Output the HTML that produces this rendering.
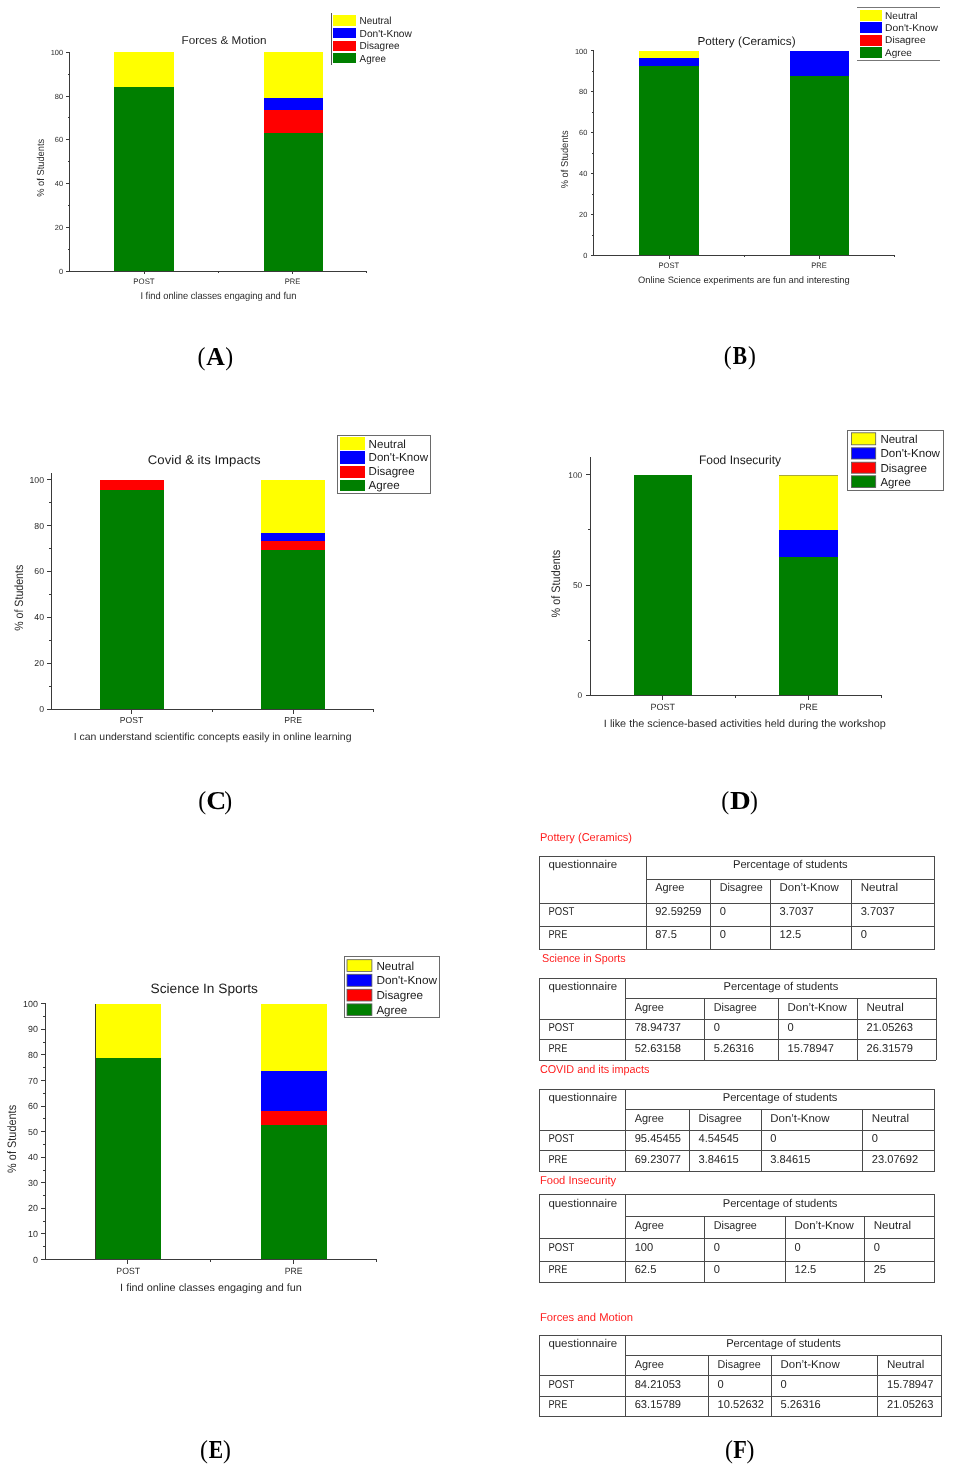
<!DOCTYPE html>
<html><head><meta charset="utf-8"><title>Figure</title>
<style>html,body{margin:0;padding:0;background:#fff;}body{width:954px;height:1468px;overflow:hidden;}svg{display:block;}#w{width:954px;height:1468px;will-change:transform;}</style>
</head><body>
<div id="w"><svg width="954" height="1468" viewBox="0 0 954 1468" shape-rendering="crispEdges" text-rendering="geometricPrecision">
<rect x="0" y="0" width="954" height="1468" fill="#fff"/>
<rect x="114.00" y="86.86" width="59.60" height="184.34" fill="#007f00"/>
<rect x="114.00" y="52.30" width="59.60" height="34.56" fill="#ffff00"/>
<rect x="263.60" y="132.95" width="59.10" height="138.25" fill="#007f00"/>
<rect x="263.60" y="109.91" width="59.10" height="23.04" fill="#ff0000"/>
<rect x="263.60" y="98.38" width="59.10" height="11.52" fill="#0000ff"/>
<rect x="263.60" y="52.30" width="59.10" height="46.08" fill="#ffff00"/>
<line x1="69.4" y1="52.3" x2="69.4" y2="271.7" stroke="#3a3a3a" stroke-width="1"/>
<line x1="66.2" y1="271.2" x2="69.4" y2="271.2" stroke="#3a3a3a" stroke-width="1"/>
<text x="63.10" y="273.80" font-family="Liberation Sans" font-size="7.4" fill="#2b2b2b" text-anchor="end">0</text>
<line x1="66.2" y1="227.42" x2="69.4" y2="227.42" stroke="#3a3a3a" stroke-width="1"/>
<text x="63.10" y="230.02" font-family="Liberation Sans" font-size="7.4" fill="#2b2b2b" text-anchor="end">20</text>
<line x1="66.2" y1="183.64" x2="69.4" y2="183.64" stroke="#3a3a3a" stroke-width="1"/>
<text x="63.10" y="186.24" font-family="Liberation Sans" font-size="7.4" fill="#2b2b2b" text-anchor="end">40</text>
<line x1="66.2" y1="139.86" x2="69.4" y2="139.86" stroke="#3a3a3a" stroke-width="1"/>
<text x="63.10" y="142.46" font-family="Liberation Sans" font-size="7.4" fill="#2b2b2b" text-anchor="end">60</text>
<line x1="66.2" y1="96.08000000000001" x2="69.4" y2="96.08000000000001" stroke="#3a3a3a" stroke-width="1"/>
<text x="63.10" y="98.68" font-family="Liberation Sans" font-size="7.4" fill="#2b2b2b" text-anchor="end">80</text>
<line x1="66.2" y1="52.30000000000004" x2="69.4" y2="52.30000000000004" stroke="#3a3a3a" stroke-width="1"/>
<text x="63.10" y="54.90" font-family="Liberation Sans" font-size="7.4" fill="#2b2b2b" text-anchor="end">100</text>
<line x1="67.80000000000001" y1="249.31" x2="69.4" y2="249.31" stroke="#3a3a3a" stroke-width="1"/>
<line x1="67.80000000000001" y1="205.53" x2="69.4" y2="205.53" stroke="#3a3a3a" stroke-width="1"/>
<line x1="67.80000000000001" y1="161.75" x2="69.4" y2="161.75" stroke="#3a3a3a" stroke-width="1"/>
<line x1="67.80000000000001" y1="117.97000000000003" x2="69.4" y2="117.97000000000003" stroke="#3a3a3a" stroke-width="1"/>
<line x1="67.80000000000001" y1="74.19000000000003" x2="69.4" y2="74.19000000000003" stroke="#3a3a3a" stroke-width="1"/>
<line x1="69.4" y1="271.2" x2="367.2" y2="271.2" stroke="#3a3a3a" stroke-width="1"/>
<line x1="144" y1="271.2" x2="144" y2="274.4" stroke="#3a3a3a" stroke-width="1"/>
<line x1="218.3" y1="271.2" x2="218.3" y2="272.96" stroke="#3a3a3a" stroke-width="1"/>
<line x1="292.5" y1="271.2" x2="292.5" y2="274.4" stroke="#3a3a3a" stroke-width="1"/>
<line x1="366.7" y1="271.2" x2="366.7" y2="272.96" stroke="#3a3a3a" stroke-width="1"/>
<text x="144.00" y="283.90" font-family="Liberation Sans" font-size="7.9" fill="#2b2b2b" text-anchor="middle" textLength="21.29" lengthAdjust="spacingAndGlyphs">POST</text>
<text x="292.60" y="283.90" font-family="Liberation Sans" font-size="7.9" fill="#2b2b2b" text-anchor="middle" textLength="15.59" lengthAdjust="spacingAndGlyphs">PRE</text>
<text x="218.40" y="299.10" font-family="Liberation Sans" font-size="10.0" fill="#2b2b2b" text-anchor="middle" textLength="155.90" lengthAdjust="spacingAndGlyphs">I find online classes engaging and fun</text>
<text x="224.00" y="44.40" font-family="Liberation Sans" font-size="11.4" fill="#1a1a1a" text-anchor="middle" textLength="84.94" lengthAdjust="spacingAndGlyphs">Forces &amp; Motion</text>
<text x="0.00" y="0.00" font-family="Liberation Sans" font-size="10.0" fill="#2b2b2b" text-anchor="middle" textLength="58.00" lengthAdjust="spacingAndGlyphs" transform="translate(43.9,167.8) rotate(-90)">% of Students</text>
<line x1="331.3" y1="13.3" x2="331.3" y2="64.7" stroke="#555" stroke-width="1"/>
<rect x="333.20" y="15.20" width="22.60" height="10.40" fill="#ffff00"/>
<text x="359.60" y="24.00" font-family="Liberation Sans" font-size="10.3" fill="#1a1a1a" textLength="31.90" lengthAdjust="spacingAndGlyphs">Neutral</text>
<rect x="333.20" y="27.90" width="22.60" height="10.40" fill="#0000ff"/>
<text x="359.60" y="36.70" font-family="Liberation Sans" font-size="10.3" fill="#1a1a1a" textLength="52.20" lengthAdjust="spacingAndGlyphs">Don't-Know</text>
<rect x="333.20" y="41.10" width="22.60" height="9.50" fill="#ff0000"/>
<text x="359.60" y="49.00" font-family="Liberation Sans" font-size="10.3" fill="#1a1a1a" textLength="40.00" lengthAdjust="spacingAndGlyphs">Disagree</text>
<rect x="333.20" y="52.90" width="22.60" height="10.40" fill="#007f00"/>
<text x="359.60" y="61.70" font-family="Liberation Sans" font-size="10.3" fill="#1a1a1a" textLength="26.30" lengthAdjust="spacingAndGlyphs">Agree</text>
<rect x="638.90" y="66.06" width="60.10" height="189.44" fill="#007f00"/>
<rect x="638.90" y="58.48" width="60.10" height="7.58" fill="#0000ff"/>
<rect x="638.90" y="50.90" width="60.10" height="7.58" fill="#ffff00"/>
<rect x="789.50" y="76.48" width="59.90" height="179.02" fill="#007f00"/>
<rect x="789.50" y="50.90" width="59.90" height="25.58" fill="#0000ff"/>
<line x1="593.8" y1="50.9" x2="593.8" y2="256.0" stroke="#3a3a3a" stroke-width="1"/>
<line x1="590.5999999999999" y1="255.5" x2="593.8" y2="255.5" stroke="#3a3a3a" stroke-width="1"/>
<text x="587.30" y="258.10" font-family="Liberation Sans" font-size="7.4" fill="#2b2b2b" text-anchor="end">0</text>
<line x1="590.5999999999999" y1="214.58" x2="593.8" y2="214.58" stroke="#3a3a3a" stroke-width="1"/>
<text x="587.30" y="217.18" font-family="Liberation Sans" font-size="7.4" fill="#2b2b2b" text-anchor="end">20</text>
<line x1="590.5999999999999" y1="173.66000000000003" x2="593.8" y2="173.66000000000003" stroke="#3a3a3a" stroke-width="1"/>
<text x="587.30" y="176.26" font-family="Liberation Sans" font-size="7.4" fill="#2b2b2b" text-anchor="end">40</text>
<line x1="590.5999999999999" y1="132.74" x2="593.8" y2="132.74" stroke="#3a3a3a" stroke-width="1"/>
<text x="587.30" y="135.34" font-family="Liberation Sans" font-size="7.4" fill="#2b2b2b" text-anchor="end">60</text>
<line x1="590.5999999999999" y1="91.82000000000002" x2="593.8" y2="91.82000000000002" stroke="#3a3a3a" stroke-width="1"/>
<text x="587.30" y="94.42" font-family="Liberation Sans" font-size="7.4" fill="#2b2b2b" text-anchor="end">80</text>
<line x1="590.5999999999999" y1="50.900000000000006" x2="593.8" y2="50.900000000000006" stroke="#3a3a3a" stroke-width="1"/>
<text x="587.30" y="53.50" font-family="Liberation Sans" font-size="7.4" fill="#2b2b2b" text-anchor="end">100</text>
<line x1="592.1999999999999" y1="235.04" x2="593.8" y2="235.04" stroke="#3a3a3a" stroke-width="1"/>
<line x1="592.1999999999999" y1="194.12" x2="593.8" y2="194.12" stroke="#3a3a3a" stroke-width="1"/>
<line x1="592.1999999999999" y1="153.2" x2="593.8" y2="153.2" stroke="#3a3a3a" stroke-width="1"/>
<line x1="592.1999999999999" y1="112.28" x2="593.8" y2="112.28" stroke="#3a3a3a" stroke-width="1"/>
<line x1="592.1999999999999" y1="71.36000000000001" x2="593.8" y2="71.36000000000001" stroke="#3a3a3a" stroke-width="1"/>
<line x1="593.8" y1="255.5" x2="894.6" y2="255.5" stroke="#3a3a3a" stroke-width="1"/>
<line x1="669" y1="255.5" x2="669" y2="258.7" stroke="#3a3a3a" stroke-width="1"/>
<line x1="744.1" y1="255.5" x2="744.1" y2="257.26" stroke="#3a3a3a" stroke-width="1"/>
<line x1="819.2" y1="255.5" x2="819.2" y2="258.7" stroke="#3a3a3a" stroke-width="1"/>
<line x1="894.1" y1="255.5" x2="894.1" y2="257.26" stroke="#3a3a3a" stroke-width="1"/>
<text x="668.80" y="268.00" font-family="Liberation Sans" font-size="7.9" fill="#2b2b2b" text-anchor="middle" textLength="20.69" lengthAdjust="spacingAndGlyphs">POST</text>
<text x="819.00" y="268.00" font-family="Liberation Sans" font-size="7.9" fill="#2b2b2b" text-anchor="middle" textLength="15.49" lengthAdjust="spacingAndGlyphs">PRE</text>
<text x="743.90" y="283.00" font-family="Liberation Sans" font-size="9.3" fill="#2b2b2b" text-anchor="middle" textLength="211.62" lengthAdjust="spacingAndGlyphs">Online Science experiments are fun and interesting</text>
<text x="746.50" y="45.30" font-family="Liberation Sans" font-size="11.6" fill="#1a1a1a" text-anchor="middle" textLength="98.16" lengthAdjust="spacingAndGlyphs">Pottery (Ceramics)</text>
<text x="0.00" y="0.00" font-family="Liberation Sans" font-size="10.0" fill="#2b2b2b" text-anchor="middle" textLength="58.00" lengthAdjust="spacingAndGlyphs" transform="translate(567.9,159.3) rotate(-90)">% of Students</text>
<line x1="857.3" y1="7.8" x2="939.8" y2="7.8" stroke="#777" stroke-width="1"/>
<line x1="857.3" y1="60.1" x2="939.8" y2="60.1" stroke="#777" stroke-width="1"/>
<rect x="859.80" y="10.10" width="21.70" height="10.90" fill="#ffff00"/>
<text x="885.10" y="18.90" font-family="Liberation Sans" font-size="9.8" fill="#1a1a1a" textLength="32.40" lengthAdjust="spacingAndGlyphs">Neutral</text>
<rect x="859.80" y="22.40" width="21.70" height="10.40" fill="#0000ff"/>
<text x="885.10" y="30.70" font-family="Liberation Sans" font-size="9.8" fill="#1a1a1a" textLength="52.70" lengthAdjust="spacingAndGlyphs">Don't-Know</text>
<rect x="859.80" y="34.70" width="21.70" height="10.80" fill="#ff0000"/>
<text x="885.10" y="43.40" font-family="Liberation Sans" font-size="9.8" fill="#1a1a1a" textLength="40.50" lengthAdjust="spacingAndGlyphs">Disagree</text>
<rect x="859.80" y="47.40" width="21.70" height="10.80" fill="#007f00"/>
<text x="885.10" y="56.10" font-family="Liberation Sans" font-size="9.8" fill="#1a1a1a" textLength="26.80" lengthAdjust="spacingAndGlyphs">Agree</text>
<rect x="99.60" y="490.04" width="64.70" height="219.16" fill="#007f00"/>
<rect x="99.60" y="479.60" width="64.70" height="10.44" fill="#ff0000"/>
<rect x="261.40" y="550.25" width="63.90" height="158.95" fill="#007f00"/>
<rect x="261.40" y="541.42" width="63.90" height="8.83" fill="#ff0000"/>
<rect x="261.40" y="532.58" width="63.90" height="8.83" fill="#0000ff"/>
<rect x="261.40" y="479.60" width="63.90" height="52.98" fill="#ffff00"/>
<line x1="51.1" y1="472.5" x2="51.1" y2="709.7" stroke="#3a3a3a" stroke-width="1"/>
<line x1="46.800000000000004" y1="709.2" x2="51.1" y2="709.2" stroke="#3a3a3a" stroke-width="1"/>
<text x="44.00" y="712.20" font-family="Liberation Sans" font-size="8.7" fill="#2b2b2b" text-anchor="end">0</text>
<line x1="46.800000000000004" y1="663.2800000000001" x2="51.1" y2="663.2800000000001" stroke="#3a3a3a" stroke-width="1"/>
<text x="44.00" y="666.28" font-family="Liberation Sans" font-size="8.7" fill="#2b2b2b" text-anchor="end">20</text>
<line x1="46.800000000000004" y1="617.36" x2="51.1" y2="617.36" stroke="#3a3a3a" stroke-width="1"/>
<text x="44.00" y="620.36" font-family="Liberation Sans" font-size="8.7" fill="#2b2b2b" text-anchor="end">40</text>
<line x1="46.800000000000004" y1="571.44" x2="51.1" y2="571.44" stroke="#3a3a3a" stroke-width="1"/>
<text x="44.00" y="574.44" font-family="Liberation Sans" font-size="8.7" fill="#2b2b2b" text-anchor="end">60</text>
<line x1="46.800000000000004" y1="525.52" x2="51.1" y2="525.52" stroke="#3a3a3a" stroke-width="1"/>
<text x="44.00" y="528.52" font-family="Liberation Sans" font-size="8.7" fill="#2b2b2b" text-anchor="end">80</text>
<line x1="46.800000000000004" y1="479.6" x2="51.1" y2="479.6" stroke="#3a3a3a" stroke-width="1"/>
<text x="44.00" y="482.60" font-family="Liberation Sans" font-size="8.7" fill="#2b2b2b" text-anchor="end">100</text>
<line x1="48.95" y1="686.24" x2="51.1" y2="686.24" stroke="#3a3a3a" stroke-width="1"/>
<line x1="48.95" y1="640.32" x2="51.1" y2="640.32" stroke="#3a3a3a" stroke-width="1"/>
<line x1="48.95" y1="594.4000000000001" x2="51.1" y2="594.4000000000001" stroke="#3a3a3a" stroke-width="1"/>
<line x1="48.95" y1="548.48" x2="51.1" y2="548.48" stroke="#3a3a3a" stroke-width="1"/>
<line x1="48.95" y1="502.56000000000006" x2="51.1" y2="502.56000000000006" stroke="#3a3a3a" stroke-width="1"/>
<line x1="51.1" y1="709.2" x2="374.2" y2="709.2" stroke="#3a3a3a" stroke-width="1"/>
<line x1="131.6" y1="709.2" x2="131.6" y2="713.5" stroke="#3a3a3a" stroke-width="1"/>
<line x1="212.6" y1="709.2" x2="212.6" y2="711.565" stroke="#3a3a3a" stroke-width="1"/>
<line x1="293.2" y1="709.2" x2="293.2" y2="713.5" stroke="#3a3a3a" stroke-width="1"/>
<line x1="373.8" y1="709.2" x2="373.8" y2="711.565" stroke="#3a3a3a" stroke-width="1"/>
<text x="131.60" y="723.30" font-family="Liberation Sans" font-size="8.7" fill="#2b2b2b" text-anchor="middle" textLength="23.47" lengthAdjust="spacingAndGlyphs">POST</text>
<text x="293.20" y="723.30" font-family="Liberation Sans" font-size="8.7" fill="#2b2b2b" text-anchor="middle" textLength="17.87" lengthAdjust="spacingAndGlyphs">PRE</text>
<text x="212.60" y="740.10" font-family="Liberation Sans" font-size="10.3" fill="#2b2b2b" text-anchor="middle" textLength="277.84" lengthAdjust="spacingAndGlyphs">I can understand scientific concepts easily in online learning</text>
<text x="204.20" y="463.90" font-family="Liberation Sans" font-size="12.5" fill="#1a1a1a" text-anchor="middle" textLength="112.75" lengthAdjust="spacingAndGlyphs">Covid &amp; its Impacts</text>
<text x="0.00" y="0.00" font-family="Liberation Sans" font-size="12.0" fill="#2b2b2b" text-anchor="middle" textLength="66.06" lengthAdjust="spacingAndGlyphs" transform="translate(22.7,597.8) rotate(-90)">% of Students</text>
<rect x="337.60" y="435.10" width="92.80" height="58.60" fill="none" stroke="#6a6a6a" stroke-width="1"/>
<rect x="340.10" y="437.20" width="25.00" height="12.60" fill="#ffff00"/>
<text x="368.60" y="447.50" font-family="Liberation Sans" font-size="11.6" fill="#1a1a1a" textLength="37.30" lengthAdjust="spacingAndGlyphs">Neutral</text>
<rect x="340.10" y="451.40" width="25.00" height="12.20" fill="#0000ff"/>
<text x="368.60" y="461.30" font-family="Liberation Sans" font-size="11.6" fill="#1a1a1a" textLength="59.40" lengthAdjust="spacingAndGlyphs">Don't-Know</text>
<rect x="340.10" y="466.20" width="25.00" height="11.30" fill="#ff0000"/>
<text x="368.60" y="475.20" font-family="Liberation Sans" font-size="11.6" fill="#1a1a1a" textLength="46.10" lengthAdjust="spacingAndGlyphs">Disagree</text>
<rect x="340.10" y="480.00" width="25.00" height="11.30" fill="#007f00"/>
<text x="368.60" y="489.00" font-family="Liberation Sans" font-size="11.6" fill="#1a1a1a" textLength="31.00" lengthAdjust="spacingAndGlyphs">Agree</text>
<rect x="634.20" y="474.80" width="57.30" height="220.50" fill="#007f00"/>
<rect x="779.40" y="557.49" width="58.40" height="137.81" fill="#007f00"/>
<rect x="779.40" y="529.92" width="58.40" height="27.56" fill="#0000ff"/>
<rect x="779.40" y="474.80" width="58.40" height="55.12" fill="#ffff00"/>
<line x1="779.4" y1="475.29999999999995" x2="837.8" y2="475.29999999999995" stroke="#a9a93a" stroke-width="1"/>
<line x1="590.4" y1="457.2" x2="590.4" y2="695.8" stroke="#3a3a3a" stroke-width="1"/>
<line x1="586.1" y1="695.3" x2="590.4" y2="695.3" stroke="#3a3a3a" stroke-width="1"/>
<text x="582.20" y="698.30" font-family="Liberation Sans" font-size="8.3" fill="#2b2b2b" text-anchor="end">0</text>
<line x1="586.1" y1="585.05" x2="590.4" y2="585.05" stroke="#3a3a3a" stroke-width="1"/>
<text x="582.20" y="588.05" font-family="Liberation Sans" font-size="8.3" fill="#2b2b2b" text-anchor="end">50</text>
<line x1="586.1" y1="474.79999999999995" x2="590.4" y2="474.79999999999995" stroke="#3a3a3a" stroke-width="1"/>
<text x="582.20" y="477.80" font-family="Liberation Sans" font-size="8.3" fill="#2b2b2b" text-anchor="end">100</text>
<line x1="588.25" y1="640.175" x2="590.4" y2="640.175" stroke="#3a3a3a" stroke-width="1"/>
<line x1="588.25" y1="529.925" x2="590.4" y2="529.925" stroke="#3a3a3a" stroke-width="1"/>
<line x1="590.4" y1="695.3" x2="881.6" y2="695.3" stroke="#3a3a3a" stroke-width="1"/>
<line x1="662.8" y1="695.3" x2="662.8" y2="699.5999999999999" stroke="#3a3a3a" stroke-width="1"/>
<line x1="735.8" y1="695.3" x2="735.8" y2="697.665" stroke="#3a3a3a" stroke-width="1"/>
<line x1="808.6" y1="695.3" x2="808.6" y2="699.5999999999999" stroke="#3a3a3a" stroke-width="1"/>
<line x1="881.2" y1="695.3" x2="881.2" y2="697.665" stroke="#3a3a3a" stroke-width="1"/>
<text x="662.80" y="710.20" font-family="Liberation Sans" font-size="9.1" fill="#2b2b2b" text-anchor="middle" textLength="24.51" lengthAdjust="spacingAndGlyphs">POST</text>
<text x="808.60" y="710.20" font-family="Liberation Sans" font-size="9.1" fill="#2b2b2b" text-anchor="middle" textLength="18.41" lengthAdjust="spacingAndGlyphs">PRE</text>
<text x="744.80" y="726.80" font-family="Liberation Sans" font-size="10.7" fill="#2b2b2b" text-anchor="middle" textLength="281.88" lengthAdjust="spacingAndGlyphs">I like the science-based activities held during the workshop</text>
<text x="740.00" y="464.40" font-family="Liberation Sans" font-size="12.2" fill="#1a1a1a" text-anchor="middle" textLength="82.22" lengthAdjust="spacingAndGlyphs">Food Insecurity</text>
<text x="0.00" y="0.00" font-family="Liberation Sans" font-size="12.2" fill="#2b2b2b" text-anchor="middle" textLength="67.68" lengthAdjust="spacingAndGlyphs" transform="translate(560.2,583.6) rotate(-90)">% of Students</text>
<rect x="847.70" y="430.50" width="95.90" height="59.90" fill="none" stroke="#6a6a6a" stroke-width="1"/>
<rect x="851.40" y="432.80" width="24.30" height="12.00" fill="#ffff00" stroke="#5a5a5a" stroke-width="0.8" shape-rendering="geometricPrecision"/>
<text x="880.40" y="443.20" font-family="Liberation Sans" font-size="11.5" fill="#1a1a1a" textLength="37.10" lengthAdjust="spacingAndGlyphs">Neutral</text>
<rect x="851.40" y="447.80" width="24.30" height="11.20" fill="#0000ff" stroke="#5a5a5a" stroke-width="0.8" shape-rendering="geometricPrecision"/>
<text x="880.40" y="457.40" font-family="Liberation Sans" font-size="11.5" fill="#1a1a1a" textLength="59.60" lengthAdjust="spacingAndGlyphs">Don't-Know</text>
<rect x="851.40" y="462.20" width="24.30" height="11.00" fill="#ff0000" stroke="#5a5a5a" stroke-width="0.8" shape-rendering="geometricPrecision"/>
<text x="880.40" y="471.60" font-family="Liberation Sans" font-size="11.5" fill="#1a1a1a" textLength="46.50" lengthAdjust="spacingAndGlyphs">Disagree</text>
<rect x="851.40" y="475.80" width="24.30" height="11.80" fill="#007f00" stroke="#5a5a5a" stroke-width="0.8" shape-rendering="geometricPrecision"/>
<text x="880.40" y="486.00" font-family="Liberation Sans" font-size="11.5" fill="#1a1a1a" textLength="30.50" lengthAdjust="spacingAndGlyphs">Agree</text>
<rect x="95.20" y="1057.63" width="65.80" height="201.87" fill="#007f00"/>
<rect x="95.20" y="1003.80" width="65.80" height="53.83" fill="#ffff00"/>
<line x1="95.5" y1="1003.8" x2="95.5" y2="1259.5" stroke="#3a3a2a" stroke-width="1"/>
<rect x="260.80" y="1124.92" width="66.30" height="134.58" fill="#007f00"/>
<rect x="260.80" y="1111.46" width="66.30" height="13.46" fill="#ff0000"/>
<rect x="260.80" y="1071.09" width="66.30" height="40.37" fill="#0000ff"/>
<rect x="260.80" y="1003.80" width="66.30" height="67.29" fill="#ffff00"/>
<line x1="45.6" y1="1003.8" x2="45.6" y2="1260.0" stroke="#3a3a3a" stroke-width="1"/>
<line x1="41.300000000000004" y1="1259.5" x2="45.6" y2="1259.5" stroke="#3a3a3a" stroke-width="1"/>
<text x="37.90" y="1262.60" font-family="Liberation Sans" font-size="8.9" fill="#2b2b2b" text-anchor="end">0</text>
<line x1="41.300000000000004" y1="1233.93" x2="45.6" y2="1233.93" stroke="#3a3a3a" stroke-width="1"/>
<text x="37.90" y="1237.03" font-family="Liberation Sans" font-size="8.9" fill="#2b2b2b" text-anchor="end">10</text>
<line x1="41.300000000000004" y1="1208.36" x2="45.6" y2="1208.36" stroke="#3a3a3a" stroke-width="1"/>
<text x="37.90" y="1211.46" font-family="Liberation Sans" font-size="8.9" fill="#2b2b2b" text-anchor="end">20</text>
<line x1="41.300000000000004" y1="1182.79" x2="45.6" y2="1182.79" stroke="#3a3a3a" stroke-width="1"/>
<text x="37.90" y="1185.89" font-family="Liberation Sans" font-size="8.9" fill="#2b2b2b" text-anchor="end">30</text>
<line x1="41.300000000000004" y1="1157.22" x2="45.6" y2="1157.22" stroke="#3a3a3a" stroke-width="1"/>
<text x="37.90" y="1160.32" font-family="Liberation Sans" font-size="8.9" fill="#2b2b2b" text-anchor="end">40</text>
<line x1="41.300000000000004" y1="1131.65" x2="45.6" y2="1131.65" stroke="#3a3a3a" stroke-width="1"/>
<text x="37.90" y="1134.75" font-family="Liberation Sans" font-size="8.9" fill="#2b2b2b" text-anchor="end">50</text>
<line x1="41.300000000000004" y1="1106.08" x2="45.6" y2="1106.08" stroke="#3a3a3a" stroke-width="1"/>
<text x="37.90" y="1109.18" font-family="Liberation Sans" font-size="8.9" fill="#2b2b2b" text-anchor="end">60</text>
<line x1="41.300000000000004" y1="1080.51" x2="45.6" y2="1080.51" stroke="#3a3a3a" stroke-width="1"/>
<text x="37.90" y="1083.61" font-family="Liberation Sans" font-size="8.9" fill="#2b2b2b" text-anchor="end">70</text>
<line x1="41.300000000000004" y1="1054.94" x2="45.6" y2="1054.94" stroke="#3a3a3a" stroke-width="1"/>
<text x="37.90" y="1058.04" font-family="Liberation Sans" font-size="8.9" fill="#2b2b2b" text-anchor="end">80</text>
<line x1="41.300000000000004" y1="1029.37" x2="45.6" y2="1029.37" stroke="#3a3a3a" stroke-width="1"/>
<text x="37.90" y="1032.47" font-family="Liberation Sans" font-size="8.9" fill="#2b2b2b" text-anchor="end">90</text>
<line x1="41.300000000000004" y1="1003.8" x2="45.6" y2="1003.8" stroke="#3a3a3a" stroke-width="1"/>
<text x="37.90" y="1006.90" font-family="Liberation Sans" font-size="8.9" fill="#2b2b2b" text-anchor="end">100</text>
<line x1="43.45" y1="1246.715" x2="45.6" y2="1246.715" stroke="#3a3a3a" stroke-width="1"/>
<line x1="43.45" y1="1221.145" x2="45.6" y2="1221.145" stroke="#3a3a3a" stroke-width="1"/>
<line x1="43.45" y1="1195.575" x2="45.6" y2="1195.575" stroke="#3a3a3a" stroke-width="1"/>
<line x1="43.45" y1="1170.0049999999999" x2="45.6" y2="1170.0049999999999" stroke="#3a3a3a" stroke-width="1"/>
<line x1="43.45" y1="1144.435" x2="45.6" y2="1144.435" stroke="#3a3a3a" stroke-width="1"/>
<line x1="43.45" y1="1118.865" x2="45.6" y2="1118.865" stroke="#3a3a3a" stroke-width="1"/>
<line x1="43.45" y1="1093.295" x2="45.6" y2="1093.295" stroke="#3a3a3a" stroke-width="1"/>
<line x1="43.45" y1="1067.725" x2="45.6" y2="1067.725" stroke="#3a3a3a" stroke-width="1"/>
<line x1="43.45" y1="1042.155" x2="45.6" y2="1042.155" stroke="#3a3a3a" stroke-width="1"/>
<line x1="43.45" y1="1016.5849999999999" x2="45.6" y2="1016.5849999999999" stroke="#3a3a3a" stroke-width="1"/>
<line x1="45.6" y1="1259.5" x2="376.8" y2="1259.5" stroke="#3a3a3a" stroke-width="1"/>
<line x1="127.8" y1="1259.5" x2="127.8" y2="1263.8" stroke="#3a3a3a" stroke-width="1"/>
<line x1="210.8" y1="1259.5" x2="210.8" y2="1261.865" stroke="#3a3a3a" stroke-width="1"/>
<line x1="293.7" y1="1259.5" x2="293.7" y2="1263.8" stroke="#3a3a3a" stroke-width="1"/>
<line x1="376.4" y1="1259.5" x2="376.4" y2="1261.865" stroke="#3a3a3a" stroke-width="1"/>
<text x="128.20" y="1273.80" font-family="Liberation Sans" font-size="9.1" fill="#2b2b2b" text-anchor="middle" textLength="23.71" lengthAdjust="spacingAndGlyphs">POST</text>
<text x="293.70" y="1273.80" font-family="Liberation Sans" font-size="9.1" fill="#2b2b2b" text-anchor="middle" textLength="17.91" lengthAdjust="spacingAndGlyphs">PRE</text>
<text x="211.00" y="1291.30" font-family="Liberation Sans" font-size="10.6" fill="#2b2b2b" text-anchor="middle" textLength="181.77" lengthAdjust="spacingAndGlyphs">I find online classes engaging and fun</text>
<text x="204.20" y="992.50" font-family="Liberation Sans" font-size="13.6" fill="#1a1a1a" text-anchor="middle" textLength="107.36" lengthAdjust="spacingAndGlyphs">Science In Sports</text>
<text x="0.00" y="0.00" font-family="Liberation Sans" font-size="12.2" fill="#2b2b2b" text-anchor="middle" textLength="67.98" lengthAdjust="spacingAndGlyphs" transform="translate(16.1,1138.9) rotate(-90)">% of Students</text>
<rect x="344.10" y="956.80" width="95.50" height="60.40" fill="none" stroke="#6a6a6a" stroke-width="1"/>
<rect x="347.00" y="959.70" width="24.90" height="11.70" fill="#ffff00" stroke="#5a5a5a" stroke-width="0.8" shape-rendering="geometricPrecision"/>
<text x="376.40" y="969.50" font-family="Liberation Sans" font-size="11.6" fill="#1a1a1a" textLength="37.60" lengthAdjust="spacingAndGlyphs">Neutral</text>
<rect x="347.00" y="974.30" width="24.90" height="12.00" fill="#0000ff" stroke="#5a5a5a" stroke-width="0.8" shape-rendering="geometricPrecision"/>
<text x="376.40" y="984.40" font-family="Liberation Sans" font-size="11.6" fill="#1a1a1a" textLength="60.60" lengthAdjust="spacingAndGlyphs">Don't-Know</text>
<rect x="347.00" y="989.30" width="24.90" height="11.70" fill="#ff0000" stroke="#5a5a5a" stroke-width="0.8" shape-rendering="geometricPrecision"/>
<text x="376.40" y="999.10" font-family="Liberation Sans" font-size="11.6" fill="#1a1a1a" textLength="46.70" lengthAdjust="spacingAndGlyphs">Disagree</text>
<rect x="347.00" y="1003.90" width="24.90" height="11.60" fill="#007f00" stroke="#5a5a5a" stroke-width="0.8" shape-rendering="geometricPrecision"/>
<text x="376.40" y="1013.60" font-family="Liberation Sans" font-size="11.6" fill="#1a1a1a" textLength="30.90" lengthAdjust="spacingAndGlyphs">Agree</text>
<text x="197.56" y="364.50" font-family="Liberation Serif" font-size="25.8" fill="#000" textLength="7.90" lengthAdjust="spacingAndGlyphs">(</text>
<text x="225.36" y="364.50" font-family="Liberation Serif" font-size="25.8" fill="#000" textLength="7.90" lengthAdjust="spacingAndGlyphs">)</text>
<text x="206.24" y="364.50" font-family="Liberation Serif" font-size="25.8" fill="#000" textLength="18.56" lengthAdjust="spacingAndGlyphs" font-weight="bold">A</text>
<text x="723.66" y="364.30" font-family="Liberation Serif" font-size="25.8" fill="#000" textLength="7.90" lengthAdjust="spacingAndGlyphs">(</text>
<text x="747.96" y="364.30" font-family="Liberation Serif" font-size="25.8" fill="#000" textLength="7.90" lengthAdjust="spacingAndGlyphs">)</text>
<text x="732.74" y="364.30" font-family="Liberation Serif" font-size="25.8" fill="#000" textLength="14.29" lengthAdjust="spacingAndGlyphs" font-weight="bold">B</text>
<text x="198.36" y="808.90" font-family="Liberation Serif" font-size="25.8" fill="#000" textLength="7.90" lengthAdjust="spacingAndGlyphs">(</text>
<text x="224.26" y="808.90" font-family="Liberation Serif" font-size="25.8" fill="#000" textLength="7.90" lengthAdjust="spacingAndGlyphs">)</text>
<text x="206.24" y="808.90" font-family="Liberation Serif" font-size="25.8" fill="#000" textLength="19.99" lengthAdjust="spacingAndGlyphs" font-weight="bold">C</text>
<text x="721.26" y="808.70" font-family="Liberation Serif" font-size="25.8" fill="#000" textLength="7.90" lengthAdjust="spacingAndGlyphs">(</text>
<text x="750.06" y="808.70" font-family="Liberation Serif" font-size="25.8" fill="#000" textLength="7.90" lengthAdjust="spacingAndGlyphs">)</text>
<text x="729.98" y="808.70" font-family="Liberation Serif" font-size="25.8" fill="#000" textLength="20.75" lengthAdjust="spacingAndGlyphs" font-weight="bold">D</text>
<text x="199.96" y="1458.40" font-family="Liberation Serif" font-size="25.8" fill="#000" textLength="7.90" lengthAdjust="spacingAndGlyphs">(</text>
<text x="222.96" y="1458.40" font-family="Liberation Serif" font-size="25.8" fill="#000" textLength="7.90" lengthAdjust="spacingAndGlyphs">)</text>
<text x="208.73" y="1458.40" font-family="Liberation Serif" font-size="25.8" fill="#000" textLength="14.39" lengthAdjust="spacingAndGlyphs" font-weight="bold">E</text>
<text x="724.96" y="1458.40" font-family="Liberation Serif" font-size="25.8" fill="#000" textLength="7.90" lengthAdjust="spacingAndGlyphs">(</text>
<text x="746.46" y="1458.40" font-family="Liberation Serif" font-size="25.8" fill="#000" textLength="7.90" lengthAdjust="spacingAndGlyphs">)</text>
<text x="733.22" y="1458.40" font-family="Liberation Serif" font-size="25.8" fill="#000" textLength="13.57" lengthAdjust="spacingAndGlyphs" font-weight="bold">F</text>
<text x="539.90" y="840.90" font-family="Liberation Sans" font-size="11.4" fill="#ff2020" textLength="92.07" lengthAdjust="spacingAndGlyphs">Pottery (Ceramics)</text>
<line x1="539.2" y1="856.3" x2="934.6" y2="856.3" stroke="#4a4a4a" stroke-width="1"/>
<line x1="539.2" y1="949.3" x2="934.6" y2="949.3" stroke="#4a4a4a" stroke-width="1"/>
<line x1="539.2" y1="903.1" x2="934.6" y2="903.1" stroke="#4a4a4a" stroke-width="1"/>
<line x1="539.2" y1="926.3" x2="934.6" y2="926.3" stroke="#4a4a4a" stroke-width="1"/>
<line x1="646" y1="879.3" x2="934.6" y2="879.3" stroke="#4a4a4a" stroke-width="1"/>
<line x1="539.2" y1="856.3" x2="539.2" y2="949.3" stroke="#4a4a4a" stroke-width="1"/>
<line x1="934.6" y1="856.3" x2="934.6" y2="949.3" stroke="#4a4a4a" stroke-width="1"/>
<line x1="646" y1="856.3" x2="646" y2="949.3" stroke="#4a4a4a" stroke-width="1"/>
<line x1="710.5" y1="879.3" x2="710.5" y2="949.3" stroke="#4a4a4a" stroke-width="1"/>
<line x1="770.4" y1="879.3" x2="770.4" y2="949.3" stroke="#4a4a4a" stroke-width="1"/>
<line x1="851.5" y1="879.3" x2="851.5" y2="949.3" stroke="#4a4a4a" stroke-width="1"/>
<text x="548.40" y="868.30" font-family="Liberation Sans" font-size="11.4" fill="#262626" textLength="68.75" lengthAdjust="spacingAndGlyphs">questionnaire</text>
<text x="790.30" y="868.30" font-family="Liberation Sans" font-size="11.4" fill="#262626" text-anchor="middle" textLength="114.70" lengthAdjust="spacingAndGlyphs">Percentage of students</text>
<text x="655.20" y="891.30" font-family="Liberation Sans" font-size="11.4" fill="#262626" textLength="29.22" lengthAdjust="spacingAndGlyphs">Agree</text>
<text x="719.70" y="891.30" font-family="Liberation Sans" font-size="11.4" fill="#262626" textLength="43.07" lengthAdjust="spacingAndGlyphs">Disagree</text>
<text x="779.60" y="891.30" font-family="Liberation Sans" font-size="11.4" fill="#262626" textLength="59.11" lengthAdjust="spacingAndGlyphs">Don’t-Know</text>
<text x="860.70" y="891.30" font-family="Liberation Sans" font-size="11.4" fill="#262626" textLength="37.34" lengthAdjust="spacingAndGlyphs">Neutral</text>
<text x="548.40" y="915.10" font-family="Liberation Sans" font-size="11.4" fill="#262626" textLength="25.93" lengthAdjust="spacingAndGlyphs">POST</text>
<text x="655.20" y="915.10" font-family="Liberation Sans" font-size="11.4" fill="#262626" textLength="46.37" lengthAdjust="spacingAndGlyphs">92.59259</text>
<text x="719.70" y="915.10" font-family="Liberation Sans" font-size="11.4" fill="#262626" textLength="6.19" lengthAdjust="spacingAndGlyphs">0</text>
<text x="779.60" y="915.10" font-family="Liberation Sans" font-size="11.4" fill="#262626" textLength="34.00" lengthAdjust="spacingAndGlyphs">3.7037</text>
<text x="860.70" y="915.10" font-family="Liberation Sans" font-size="11.4" fill="#262626" textLength="34.00" lengthAdjust="spacingAndGlyphs">3.7037</text>
<text x="548.40" y="938.30" font-family="Liberation Sans" font-size="11.4" fill="#262626" textLength="18.89" lengthAdjust="spacingAndGlyphs">PRE</text>
<text x="655.20" y="938.30" font-family="Liberation Sans" font-size="11.4" fill="#262626" textLength="21.63" lengthAdjust="spacingAndGlyphs">87.5</text>
<text x="719.70" y="938.30" font-family="Liberation Sans" font-size="11.4" fill="#262626" textLength="6.19" lengthAdjust="spacingAndGlyphs">0</text>
<text x="779.60" y="938.30" font-family="Liberation Sans" font-size="11.4" fill="#262626" textLength="21.63" lengthAdjust="spacingAndGlyphs">12.5</text>
<text x="860.70" y="938.30" font-family="Liberation Sans" font-size="11.4" fill="#262626" textLength="6.19" lengthAdjust="spacingAndGlyphs">0</text>
<text x="542.10" y="962.00" font-family="Liberation Sans" font-size="11.4" fill="#ff2020" textLength="83.53" lengthAdjust="spacingAndGlyphs">Science in Sports</text>
<line x1="539.2" y1="978" x2="936.4" y2="978" stroke="#4a4a4a" stroke-width="1"/>
<line x1="539.2" y1="1060" x2="936.4" y2="1060" stroke="#4a4a4a" stroke-width="1"/>
<line x1="539.2" y1="1019" x2="936.4" y2="1019" stroke="#4a4a4a" stroke-width="1"/>
<line x1="539.2" y1="1039.6" x2="936.4" y2="1039.6" stroke="#4a4a4a" stroke-width="1"/>
<line x1="625.5" y1="998.6" x2="936.4" y2="998.6" stroke="#4a4a4a" stroke-width="1"/>
<line x1="539.2" y1="978" x2="539.2" y2="1060" stroke="#4a4a4a" stroke-width="1"/>
<line x1="936.4" y1="978" x2="936.4" y2="1060" stroke="#4a4a4a" stroke-width="1"/>
<line x1="625.5" y1="978" x2="625.5" y2="1060" stroke="#4a4a4a" stroke-width="1"/>
<line x1="704.6" y1="998.6" x2="704.6" y2="1060" stroke="#4a4a4a" stroke-width="1"/>
<line x1="778.4" y1="998.6" x2="778.4" y2="1060" stroke="#4a4a4a" stroke-width="1"/>
<line x1="857.3" y1="998.6" x2="857.3" y2="1060" stroke="#4a4a4a" stroke-width="1"/>
<text x="548.40" y="990.00" font-family="Liberation Sans" font-size="11.4" fill="#262626" textLength="68.75" lengthAdjust="spacingAndGlyphs">questionnaire</text>
<text x="780.95" y="990.00" font-family="Liberation Sans" font-size="11.4" fill="#262626" text-anchor="middle" textLength="114.70" lengthAdjust="spacingAndGlyphs">Percentage of students</text>
<text x="634.70" y="1010.60" font-family="Liberation Sans" font-size="11.4" fill="#262626" textLength="29.22" lengthAdjust="spacingAndGlyphs">Agree</text>
<text x="713.80" y="1010.60" font-family="Liberation Sans" font-size="11.4" fill="#262626" textLength="43.07" lengthAdjust="spacingAndGlyphs">Disagree</text>
<text x="787.60" y="1010.60" font-family="Liberation Sans" font-size="11.4" fill="#262626" textLength="59.11" lengthAdjust="spacingAndGlyphs">Don’t-Know</text>
<text x="866.50" y="1010.60" font-family="Liberation Sans" font-size="11.4" fill="#262626" textLength="37.34" lengthAdjust="spacingAndGlyphs">Neutral</text>
<text x="548.40" y="1031.00" font-family="Liberation Sans" font-size="11.4" fill="#262626" textLength="25.93" lengthAdjust="spacingAndGlyphs">POST</text>
<text x="634.70" y="1031.00" font-family="Liberation Sans" font-size="11.4" fill="#262626" textLength="46.37" lengthAdjust="spacingAndGlyphs">78.94737</text>
<text x="713.80" y="1031.00" font-family="Liberation Sans" font-size="11.4" fill="#262626" textLength="6.19" lengthAdjust="spacingAndGlyphs">0</text>
<text x="787.60" y="1031.00" font-family="Liberation Sans" font-size="11.4" fill="#262626" textLength="6.19" lengthAdjust="spacingAndGlyphs">0</text>
<text x="866.50" y="1031.00" font-family="Liberation Sans" font-size="11.4" fill="#262626" textLength="46.37" lengthAdjust="spacingAndGlyphs">21.05263</text>
<text x="548.40" y="1051.60" font-family="Liberation Sans" font-size="11.4" fill="#262626" textLength="18.89" lengthAdjust="spacingAndGlyphs">PRE</text>
<text x="634.70" y="1051.60" font-family="Liberation Sans" font-size="11.4" fill="#262626" textLength="46.37" lengthAdjust="spacingAndGlyphs">52.63158</text>
<text x="713.80" y="1051.60" font-family="Liberation Sans" font-size="11.4" fill="#262626" textLength="40.19" lengthAdjust="spacingAndGlyphs">5.26316</text>
<text x="787.60" y="1051.60" font-family="Liberation Sans" font-size="11.4" fill="#262626" textLength="46.37" lengthAdjust="spacingAndGlyphs">15.78947</text>
<text x="866.50" y="1051.60" font-family="Liberation Sans" font-size="11.4" fill="#262626" textLength="46.37" lengthAdjust="spacingAndGlyphs">26.31579</text>
<text x="539.90" y="1073.20" font-family="Liberation Sans" font-size="11.4" fill="#ff2020" textLength="109.46" lengthAdjust="spacingAndGlyphs">COVID and its impacts</text>
<line x1="539.2" y1="1089.1" x2="934.6" y2="1089.1" stroke="#4a4a4a" stroke-width="1"/>
<line x1="539.2" y1="1171" x2="934.6" y2="1171" stroke="#4a4a4a" stroke-width="1"/>
<line x1="539.2" y1="1130.4" x2="934.6" y2="1130.4" stroke="#4a4a4a" stroke-width="1"/>
<line x1="539.2" y1="1150.5" x2="934.6" y2="1150.5" stroke="#4a4a4a" stroke-width="1"/>
<line x1="625.5" y1="1109.6" x2="934.6" y2="1109.6" stroke="#4a4a4a" stroke-width="1"/>
<line x1="539.2" y1="1089.1" x2="539.2" y2="1171" stroke="#4a4a4a" stroke-width="1"/>
<line x1="934.6" y1="1089.1" x2="934.6" y2="1171" stroke="#4a4a4a" stroke-width="1"/>
<line x1="625.5" y1="1089.1" x2="625.5" y2="1171" stroke="#4a4a4a" stroke-width="1"/>
<line x1="689.4" y1="1109.6" x2="689.4" y2="1171" stroke="#4a4a4a" stroke-width="1"/>
<line x1="761.1" y1="1109.6" x2="761.1" y2="1171" stroke="#4a4a4a" stroke-width="1"/>
<line x1="862.6" y1="1109.6" x2="862.6" y2="1171" stroke="#4a4a4a" stroke-width="1"/>
<text x="548.40" y="1101.10" font-family="Liberation Sans" font-size="11.4" fill="#262626" textLength="68.75" lengthAdjust="spacingAndGlyphs">questionnaire</text>
<text x="780.05" y="1101.10" font-family="Liberation Sans" font-size="11.4" fill="#262626" text-anchor="middle" textLength="114.70" lengthAdjust="spacingAndGlyphs">Percentage of students</text>
<text x="634.70" y="1121.60" font-family="Liberation Sans" font-size="11.4" fill="#262626" textLength="29.22" lengthAdjust="spacingAndGlyphs">Agree</text>
<text x="698.60" y="1121.60" font-family="Liberation Sans" font-size="11.4" fill="#262626" textLength="43.07" lengthAdjust="spacingAndGlyphs">Disagree</text>
<text x="770.30" y="1121.60" font-family="Liberation Sans" font-size="11.4" fill="#262626" textLength="59.11" lengthAdjust="spacingAndGlyphs">Don’t-Know</text>
<text x="871.80" y="1121.60" font-family="Liberation Sans" font-size="11.4" fill="#262626" textLength="37.34" lengthAdjust="spacingAndGlyphs">Neutral</text>
<text x="548.40" y="1142.40" font-family="Liberation Sans" font-size="11.4" fill="#262626" textLength="25.93" lengthAdjust="spacingAndGlyphs">POST</text>
<text x="634.70" y="1142.40" font-family="Liberation Sans" font-size="11.4" fill="#262626" textLength="46.37" lengthAdjust="spacingAndGlyphs">95.45455</text>
<text x="698.60" y="1142.40" font-family="Liberation Sans" font-size="11.4" fill="#262626" textLength="40.19" lengthAdjust="spacingAndGlyphs">4.54545</text>
<text x="770.30" y="1142.40" font-family="Liberation Sans" font-size="11.4" fill="#262626" textLength="6.19" lengthAdjust="spacingAndGlyphs">0</text>
<text x="871.80" y="1142.40" font-family="Liberation Sans" font-size="11.4" fill="#262626" textLength="6.19" lengthAdjust="spacingAndGlyphs">0</text>
<text x="548.40" y="1162.50" font-family="Liberation Sans" font-size="11.4" fill="#262626" textLength="18.89" lengthAdjust="spacingAndGlyphs">PRE</text>
<text x="634.70" y="1162.50" font-family="Liberation Sans" font-size="11.4" fill="#262626" textLength="46.37" lengthAdjust="spacingAndGlyphs">69.23077</text>
<text x="698.60" y="1162.50" font-family="Liberation Sans" font-size="11.4" fill="#262626" textLength="40.19" lengthAdjust="spacingAndGlyphs">3.84615</text>
<text x="770.30" y="1162.50" font-family="Liberation Sans" font-size="11.4" fill="#262626" textLength="40.19" lengthAdjust="spacingAndGlyphs">3.84615</text>
<text x="871.80" y="1162.50" font-family="Liberation Sans" font-size="11.4" fill="#262626" textLength="46.37" lengthAdjust="spacingAndGlyphs">23.07692</text>
<text x="539.90" y="1184.40" font-family="Liberation Sans" font-size="11.4" fill="#ff2020" textLength="76.18" lengthAdjust="spacingAndGlyphs">Food Insecurity</text>
<line x1="539.2" y1="1194.6" x2="934.6" y2="1194.6" stroke="#4a4a4a" stroke-width="1"/>
<line x1="539.2" y1="1282.1" x2="934.6" y2="1282.1" stroke="#4a4a4a" stroke-width="1"/>
<line x1="539.2" y1="1238.7" x2="934.6" y2="1238.7" stroke="#4a4a4a" stroke-width="1"/>
<line x1="539.2" y1="1261" x2="934.6" y2="1261" stroke="#4a4a4a" stroke-width="1"/>
<line x1="625.5" y1="1216.5" x2="934.6" y2="1216.5" stroke="#4a4a4a" stroke-width="1"/>
<line x1="539.2" y1="1194.6" x2="539.2" y2="1282.1" stroke="#4a4a4a" stroke-width="1"/>
<line x1="934.6" y1="1194.6" x2="934.6" y2="1282.1" stroke="#4a4a4a" stroke-width="1"/>
<line x1="625.5" y1="1194.6" x2="625.5" y2="1282.1" stroke="#4a4a4a" stroke-width="1"/>
<line x1="704.6" y1="1216.5" x2="704.6" y2="1282.1" stroke="#4a4a4a" stroke-width="1"/>
<line x1="785.4" y1="1216.5" x2="785.4" y2="1282.1" stroke="#4a4a4a" stroke-width="1"/>
<line x1="864.5" y1="1216.5" x2="864.5" y2="1282.1" stroke="#4a4a4a" stroke-width="1"/>
<text x="548.40" y="1206.60" font-family="Liberation Sans" font-size="11.4" fill="#262626" textLength="68.75" lengthAdjust="spacingAndGlyphs">questionnaire</text>
<text x="780.05" y="1206.60" font-family="Liberation Sans" font-size="11.4" fill="#262626" text-anchor="middle" textLength="114.70" lengthAdjust="spacingAndGlyphs">Percentage of students</text>
<text x="634.70" y="1228.50" font-family="Liberation Sans" font-size="11.4" fill="#262626" textLength="29.22" lengthAdjust="spacingAndGlyphs">Agree</text>
<text x="713.80" y="1228.50" font-family="Liberation Sans" font-size="11.4" fill="#262626" textLength="43.07" lengthAdjust="spacingAndGlyphs">Disagree</text>
<text x="794.60" y="1228.50" font-family="Liberation Sans" font-size="11.4" fill="#262626" textLength="59.11" lengthAdjust="spacingAndGlyphs">Don’t-Know</text>
<text x="873.70" y="1228.50" font-family="Liberation Sans" font-size="11.4" fill="#262626" textLength="37.34" lengthAdjust="spacingAndGlyphs">Neutral</text>
<text x="548.40" y="1250.70" font-family="Liberation Sans" font-size="11.4" fill="#262626" textLength="25.93" lengthAdjust="spacingAndGlyphs">POST</text>
<text x="634.70" y="1250.70" font-family="Liberation Sans" font-size="11.4" fill="#262626" textLength="18.56" lengthAdjust="spacingAndGlyphs">100</text>
<text x="713.80" y="1250.70" font-family="Liberation Sans" font-size="11.4" fill="#262626" textLength="6.19" lengthAdjust="spacingAndGlyphs">0</text>
<text x="794.60" y="1250.70" font-family="Liberation Sans" font-size="11.4" fill="#262626" textLength="6.19" lengthAdjust="spacingAndGlyphs">0</text>
<text x="873.70" y="1250.70" font-family="Liberation Sans" font-size="11.4" fill="#262626" textLength="6.19" lengthAdjust="spacingAndGlyphs">0</text>
<text x="548.40" y="1273.00" font-family="Liberation Sans" font-size="11.4" fill="#262626" textLength="18.89" lengthAdjust="spacingAndGlyphs">PRE</text>
<text x="634.70" y="1273.00" font-family="Liberation Sans" font-size="11.4" fill="#262626" textLength="21.63" lengthAdjust="spacingAndGlyphs">62.5</text>
<text x="713.80" y="1273.00" font-family="Liberation Sans" font-size="11.4" fill="#262626" textLength="6.19" lengthAdjust="spacingAndGlyphs">0</text>
<text x="794.60" y="1273.00" font-family="Liberation Sans" font-size="11.4" fill="#262626" textLength="21.63" lengthAdjust="spacingAndGlyphs">12.5</text>
<text x="873.70" y="1273.00" font-family="Liberation Sans" font-size="11.4" fill="#262626" textLength="12.37" lengthAdjust="spacingAndGlyphs">25</text>
<text x="539.90" y="1320.90" font-family="Liberation Sans" font-size="11.4" fill="#ff2020" textLength="93.04" lengthAdjust="spacingAndGlyphs">Forces and Motion</text>
<line x1="539.2" y1="1335.3" x2="941.5" y2="1335.3" stroke="#4a4a4a" stroke-width="1"/>
<line x1="539.2" y1="1416.3" x2="941.5" y2="1416.3" stroke="#4a4a4a" stroke-width="1"/>
<line x1="539.2" y1="1375.5" x2="941.5" y2="1375.5" stroke="#4a4a4a" stroke-width="1"/>
<line x1="539.2" y1="1396.3" x2="941.5" y2="1396.3" stroke="#4a4a4a" stroke-width="1"/>
<line x1="625.5" y1="1355.6" x2="941.5" y2="1355.6" stroke="#4a4a4a" stroke-width="1"/>
<line x1="539.2" y1="1335.3" x2="539.2" y2="1416.3" stroke="#4a4a4a" stroke-width="1"/>
<line x1="941.5" y1="1335.3" x2="941.5" y2="1416.3" stroke="#4a4a4a" stroke-width="1"/>
<line x1="625.5" y1="1335.3" x2="625.5" y2="1416.3" stroke="#4a4a4a" stroke-width="1"/>
<line x1="708.4" y1="1355.6" x2="708.4" y2="1416.3" stroke="#4a4a4a" stroke-width="1"/>
<line x1="771.4" y1="1355.6" x2="771.4" y2="1416.3" stroke="#4a4a4a" stroke-width="1"/>
<line x1="877.8" y1="1355.6" x2="877.8" y2="1416.3" stroke="#4a4a4a" stroke-width="1"/>
<text x="548.40" y="1347.30" font-family="Liberation Sans" font-size="11.4" fill="#262626" textLength="68.75" lengthAdjust="spacingAndGlyphs">questionnaire</text>
<text x="783.50" y="1347.30" font-family="Liberation Sans" font-size="11.4" fill="#262626" text-anchor="middle" textLength="114.70" lengthAdjust="spacingAndGlyphs">Percentage of students</text>
<text x="634.70" y="1367.60" font-family="Liberation Sans" font-size="11.4" fill="#262626" textLength="29.22" lengthAdjust="spacingAndGlyphs">Agree</text>
<text x="717.60" y="1367.60" font-family="Liberation Sans" font-size="11.4" fill="#262626" textLength="43.07" lengthAdjust="spacingAndGlyphs">Disagree</text>
<text x="780.60" y="1367.60" font-family="Liberation Sans" font-size="11.4" fill="#262626" textLength="59.11" lengthAdjust="spacingAndGlyphs">Don’t-Know</text>
<text x="887.00" y="1367.60" font-family="Liberation Sans" font-size="11.4" fill="#262626" textLength="37.34" lengthAdjust="spacingAndGlyphs">Neutral</text>
<text x="548.40" y="1387.50" font-family="Liberation Sans" font-size="11.4" fill="#262626" textLength="25.93" lengthAdjust="spacingAndGlyphs">POST</text>
<text x="634.70" y="1387.50" font-family="Liberation Sans" font-size="11.4" fill="#262626" textLength="46.37" lengthAdjust="spacingAndGlyphs">84.21053</text>
<text x="717.60" y="1387.50" font-family="Liberation Sans" font-size="11.4" fill="#262626" textLength="6.19" lengthAdjust="spacingAndGlyphs">0</text>
<text x="780.60" y="1387.50" font-family="Liberation Sans" font-size="11.4" fill="#262626" textLength="6.19" lengthAdjust="spacingAndGlyphs">0</text>
<text x="887.00" y="1387.50" font-family="Liberation Sans" font-size="11.4" fill="#262626" textLength="46.37" lengthAdjust="spacingAndGlyphs">15.78947</text>
<text x="548.40" y="1408.30" font-family="Liberation Sans" font-size="11.4" fill="#262626" textLength="18.89" lengthAdjust="spacingAndGlyphs">PRE</text>
<text x="634.70" y="1408.30" font-family="Liberation Sans" font-size="11.4" fill="#262626" textLength="46.37" lengthAdjust="spacingAndGlyphs">63.15789</text>
<text x="717.60" y="1408.30" font-family="Liberation Sans" font-size="11.4" fill="#262626" textLength="46.37" lengthAdjust="spacingAndGlyphs">10.52632</text>
<text x="780.60" y="1408.30" font-family="Liberation Sans" font-size="11.4" fill="#262626" textLength="40.19" lengthAdjust="spacingAndGlyphs">5.26316</text>
<text x="887.00" y="1408.30" font-family="Liberation Sans" font-size="11.4" fill="#262626" textLength="46.37" lengthAdjust="spacingAndGlyphs">21.05263</text>
</svg></div>
</body></html>
